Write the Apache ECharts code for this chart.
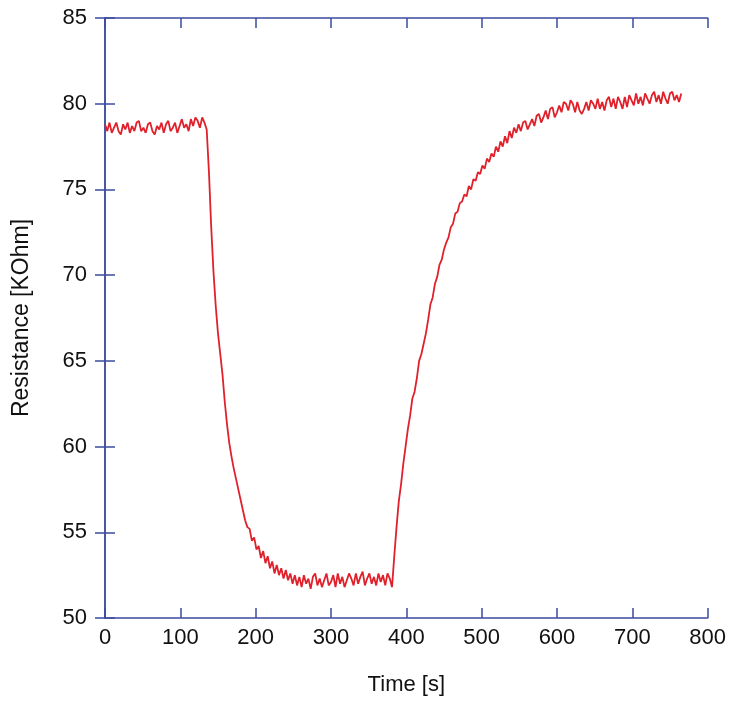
<!DOCTYPE html>
<html>
<head>
<meta charset="utf-8">
<script src="https://cdn.jsdelivr.net/npm/echarts@6/dist/echarts.min.js"></script>
<style>
html,body{margin:0;padding:0;background:#fff;}
#chart{width:729px;height:703px;}
</style>
</head>
<body>
<div id="chart"></div>
<script>
// Sampling interval of the recording [s]
const SAMPLE_STEP = 3;
// Resistance readings [KOhm], one every SAMPLE_STEP seconds starting at t = 0
const baseline = [78.8,78.4,78.9,78.3,78.6,78.9,78.4,78.2,78.8,78.5,78.9,78.3,78.7,78.4,78.9,79.0,78.4,78.6,78.3,78.8,78.9,78.4,78.2,78.7,78.5,78.9,78.3,78.8,79.0,78.4,78.6,78.9,78.3,78.7,79.1,78.6,78.8,78.4,79.1,78.7,79.2,79.0,78.6,79.2,78.9];
const dropPhase = [78.5,76.0,72.8,70.2,68.2,66.6,65.4,64.2,62.6,61.3,60.2,59.4,58.7,58.1,57.5,56.9,56.3,55.7,55.3,55.2,54.5,54.7,54.0,54.2,53.5,53.9,53.2,53.6,52.9,53.3,52.6,53.1,52.5,52.9,52.3,52.8,52.2,52.6,52.0,52.5,51.9,52.4,51.8];
const lowPlateau = [52.5,52.0,52.3,51.7,52.4,52.6,51.9,52.3,51.8,52.2,52.6,51.9,52.1,52.5,51.8,52.6,52.0,52.4,51.8,52.2,52.6,52.3,51.9,52.6,52.0,52.4,52.7,51.9,52.3,52.6,52.0,52.4,51.9,52.6,52.1,52.5,51.9,52.6,52.3,51.8];
const recovery = [53.6,55.3,56.8,57.8,59.0,60.0,61.0,61.8,62.8,63.2,64.0,65.0,65.4,66.0,66.6,67.4,68.3,68.7,69.5,69.9,70.6,70.9,71.5,71.9,72.2,72.8,73.0,73.6,73.7,74.2,74.3,74.7,74.6,75.2,75.0,75.6,75.5,76.0,75.9,76.4,76.2,76.8,76.6,77.1,76.9,77.5,77.2,77.8,77.5,78.1,77.7,78.4,78.0,78.6,78.3,78.8,78.4,78.9,79.0,78.5,78.8,79.1,78.7,79.3,79.4,78.9,79.2,79.6,79.1,79.7,79.8,79.2,79.5,79.9,79.5,80.1,80.0,79.6,80.2];
const highPlateau = [80.0,79.5,80.1,79.6,79.4,79.7,80.1,79.6,80.2,80.0,79.7,80.3,79.7,80.1,79.6,80.2,80.4,79.8,80.3,79.7,80.4,80.1,79.7,80.4,79.8,80.5,80.2,79.9,80.6,80.0,80.4,79.9,80.6,80.3,80.0,80.5,80.7,80.1,80.5,80.0,80.7,80.3,80.0,80.6,80.7,80.2,80.5,80.1,80.6];

const xTicks = [0,100,200,300,400,500,600,700,800];
const yTicks = [50,55,60,65,70,75,80,85];

const resistance = baseline.concat(dropPhase, lowPlateau, recovery, highPlateau);
const seriesData = resistance.map((v, i) => [i * SAMPLE_STEP, v]);

const AX = '#3d4c9e';
const FONT = 'Liberation Sans, Arial, sans-serif';

const chart = echarts.init(document.getElementById('chart'), null, {renderer: 'canvas'});
chart.setOption({
  animation: false,
  backgroundColor: '#fff',
  grid: {left: 105, right: 21, top: 18, bottom: 85, containLabel: false},
  xAxis: [{
    type: 'value', min: xTicks[0], max: xTicks[xTicks.length-1], interval: 100,
    name: 'Time [s]', nameLocation: 'middle', nameGap: 56,
    nameTextStyle: {fontFamily: FONT, fontSize: 22, color: '#111'},
    axisLine: {show: true, lineStyle: {color: AX, width: 1.5}},
    axisTick: {show: true, inside: true, length: 10, lineStyle: {color: AX, width: 1.5}},
    axisLabel: {fontFamily: FONT, fontSize: 22, color: '#111', margin: 9},
    splitLine: {show: false}
  }, {
    type: 'value', position: 'top', min: xTicks[0], max: xTicks[xTicks.length-1], interval: 100,
    axisLine: {show: true, lineStyle: {color: AX, width: 1.5}},
    axisTick: {show: true, inside: true, length: 10, lineStyle: {color: AX, width: 1.5}},
    axisLabel: {show: false}, splitLine: {show: false}
  }],
  yAxis: [{
    type: 'value', min: yTicks[0], max: yTicks[yTicks.length-1], interval: 5,
    name: 'Resistance [KOhm]', nameLocation: 'middle', nameGap: 72, nameRotate: 90,
    nameTextStyle: {fontFamily: FONT, fontSize: 23, color: '#111'},
    axisLine: {show: true, lineStyle: {color: AX, width: 1.5}},
    axisTick: {show: true, inside: true, length: 10, lineStyle: {color: AX, width: 1.5}},
    axisLabel: {fontFamily: FONT, fontSize: 22, color: '#111', margin: 18},
    splitLine: {show: false}
  }, {
    type: 'value', position: 'right', min: yTicks[0], max: yTicks[yTicks.length-1], interval: 5,
    axisLine: {show: true, lineStyle: {color: AX, width: 1.5}},
    axisTick: {show: true, inside: true, length: 10, lineStyle: {color: AX, width: 1.5}},
    axisLabel: {show: false}, splitLine: {show: false}
  }],
  series: [{
    type: 'line', xAxisIndex: 0, yAxisIndex: 0,
    data: seriesData, showSymbol: false, symbol: 'none',
    lineStyle: {color: '#e0212b', width: 1.8},
    z: 3
  }]
});
</script>
</body>
</html>
